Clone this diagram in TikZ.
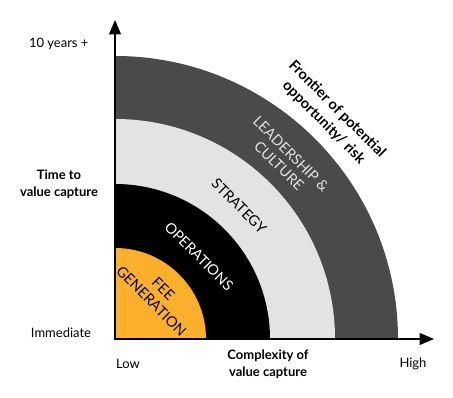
\documentclass[tikz,border=0pt]{standalone}
\usepackage{fontspec}
\setmainfont{Lato}
\usepackage{tikz}
\usetikzlibrary{arrows}
\definecolor{ringdark}{rgb}{0.29,0.29,0.29}
\definecolor{ringlight}{rgb}{0.89,0.89,0.89}
\definecolor{ringfee}{rgb}{0.98,0.69,0.17}
\tikzstyle{every node}=[font=\fontsize{13}{16}\selectfont]
\tikzstyle{axislabel}=[font=\fontsize{13}{17}\selectfont\bfseries, align=center]
\tikzstyle{ringlabel}=[font=\fontsize{14.5}{17}\selectfont, align=center, rotate=-45, inner sep=1pt]

\begin{document}
\begin{tikzpicture}[line cap=round,line join=round,>=triangle 45,x=1pt,y=1pt]
            \useasboundingbox (-115,-59) rectangle (338,339);
            % rings, outside in
            \fill [color=ringdark] (0,0) -- (283,0) arc (0:90:283) -- cycle;
            \fill [color=ringlight] (0,0) -- (220,0) arc (0:90:220) -- cycle;
            \fill [color=black] (0,0) -- (155,0) arc (0:90:155) -- cycle;
            \fill [color=ringfee] (0,0) -- (91,0) arc (0:90:91) -- cycle;
            \node [ringlabel, color=ringlight] (lead) at (46.5:247) {LEADERSHIP \&\\CULTURE};
            \node [ringlabel, color=black] (strat) at (47:182) {STRATEGY};
            \node [ringlabel, color=white] (ops) at (44.6:118) {OPERATIONS};
            \node [ringlabel, color=black] (fee) at (46:61) {FEE\\GENERATION};
            \node [axislabel, rotate=-45, font=\fontsize{14.5}{19}\selectfont\bfseries, inner sep=1pt] (frontier) at (46:310) {Frontier of potential\\opportunity/ risk};
            % axes
            \coordinate (origin) at (0,0);
            \coordinate (ytip) at (0,319);
            \coordinate (xtip) at (319,0);
            \draw [->,line width=2.4pt] (origin) -- (ytip);
            \draw [->,line width=2.4pt] (origin) -- (xtip);
            \node [anchor=east] (longterm) at (-23,295) {10 years +};
            \node [axislabel] (timelabel) at (-56,155) {Time to\\value capture};
            \node (immediate) at (-54,6) {Immediate};
            \node (low) at (13,-25) {Low};
            \node [axislabel] (complexlabel) at (153,-25) {Complexity of\\value capture};
            \node (high) at (298,-25) {High};
\end{tikzpicture}
\end{document}
